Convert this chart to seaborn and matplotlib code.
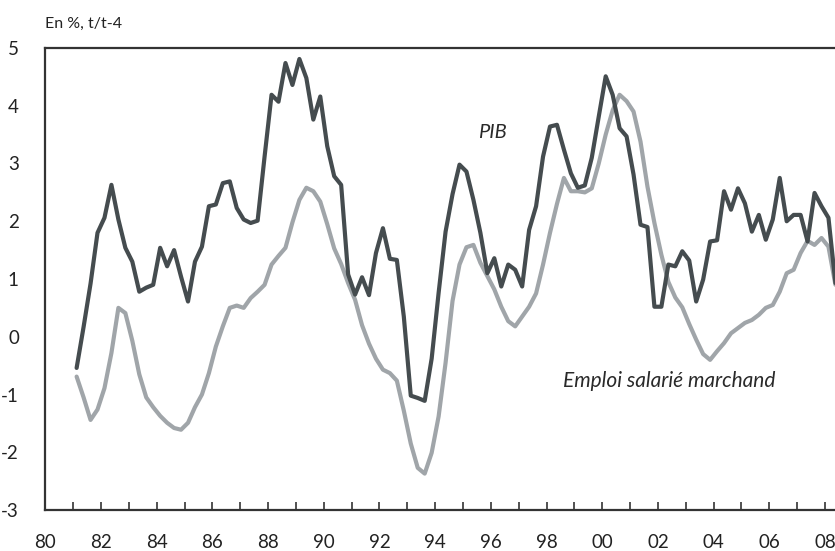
import matplotlib
matplotlib.use("Agg")
import matplotlib.pyplot as plt
from matplotlib.ticker import MultipleLocator, FuncFormatter
import seaborn as sns
import pandas as pd
import numpy as np

# Quarterly data, 1981Q1 - 2008Q2, year-over-year growth (%)
periods = pd.period_range("1981Q1", "2008Q2", freq="Q")

pib = [
    -0.54, 0.17, 0.92, 1.80, 2.06, 2.63, 2.03, 1.54,
    1.30, 0.78, 0.85, 0.90,
    1.54, 1.22, 1.50, 1.04,
    0.61, 1.30, 1.56, 2.26,
    2.29, 2.66, 2.69, 2.23,
    2.03, 1.97, 2.01, 3.12,
    4.19, 4.07, 4.74, 4.36,
    4.81, 4.48, 3.76, 4.16,
    3.30, 2.78, 2.63, 1.08,
    0.73, 1.03, 0.72, 1.45,
    1.88, 1.35, 1.33, 0.35,
    -1.02, -1.06, -1.11, -0.38,
    0.76, 1.82, 2.47, 2.98,
    2.86, 2.37, 1.80, 1.10,
    1.36, 0.87, 1.25, 1.16,
    0.87, 1.85, 2.26, 3.12,
    3.64, 3.67, 3.24, 2.83,
    2.58, 2.62, 3.10, 3.81,
    4.51, 4.19, 3.61, 3.47,
    2.81, 1.94, 1.90, 0.52,
    0.52, 1.25, 1.22, 1.48,
    1.32, 0.61, 0.99, 1.65,
    1.67, 2.52, 2.20, 2.57,
    2.31, 1.82, 2.11, 1.68,
    2.03, 2.75, 2.00, 2.11,
    2.11, 1.65, 2.49, 2.26,
    2.06, 0.93,
]

emploi = [
    -0.69, -1.05, -1.44, -1.26, -0.89, -0.28, 0.50, 0.41,
    -0.07, -0.65, -1.05, -1.22,
    -1.37, -1.49, -1.58, -1.61,
    -1.49, -1.22, -1.00, -0.63,
    -0.17, 0.18, 0.50, 0.54,
    0.50, 0.67, 0.78, 0.90,
    1.25, 1.40, 1.54, 1.98,
    2.37, 2.58, 2.52, 2.34,
    1.95, 1.53, 1.26, 0.93,
    0.64, 0.20, -0.12, -0.38,
    -0.57, -0.63, -0.76, -1.28,
    -1.85, -2.27, -2.37, -2.01,
    -1.38, -0.45, 0.62, 1.25,
    1.55, 1.59, 1.28, 1.05,
    0.82, 0.52, 0.27, 0.18,
    0.35, 0.52, 0.75, 1.25,
    1.80, 2.30, 2.75, 2.52,
    2.52, 2.50, 2.57, 3.00,
    3.50, 3.92, 4.19, 4.08,
    3.90, 3.38, 2.60, 1.97,
    1.42, 0.95, 0.68, 0.51,
    0.22, -0.05, -0.30, -0.40,
    -0.25, -0.11, 0.06, 0.15,
    0.24, 0.29, 0.38, 0.50,
    0.55, 0.78, 1.10, 1.16,
    1.45, 1.66, 1.59, 1.71,
    1.56, 0.90,
]

series_names = ["Emploi salarié marchand", "PIB"]
y_ticks = [-3, -2, -1, 0, 1, 2, 3, 4, 5]

t = np.array([p.year + (p.quarter - 0.5) / 4 for p in periods])
df = pd.concat([
    pd.DataFrame({"t": t, "val": emploi, "serie": series_names[0]}),
    pd.DataFrame({"t": t, "val": pib, "serie": series_names[1]}),
])

sns.set_theme(style="white")
plt.rcParams["font.family"] = ["Lato", "DejaVu Sans"]

W, H = 835, 551
fig = plt.figure(figsize=(W / 100, H / 100), dpi=100)
ax = fig.add_axes([45.3 / W, (H - 510) / H, (W - 45.3) / W, (510 - 48) / H])

palette = {series_names[0]: "#a0a5a9", series_names[1]: "#454c4f"}
sns.lineplot(data=df, x="t", y="val", hue="serie", palette=palette,
             linewidth=3.0, ax=ax, legend=False, estimator=None)

ax.set_xlim(1980, 2008.36)
ax.set_ylim(-3, 5)
ax.set_xlabel("")
ax.set_ylabel("")

ax.xaxis.set_major_locator(MultipleLocator(2))
ax.xaxis.set_minor_locator(MultipleLocator(1))
ax.xaxis.set_major_formatter(FuncFormatter(lambda v, p: f"{int(round(v)) % 100:02d}"))
ax.set_yticks(y_ticks)
ax.set_yticklabels([str(v) for v in y_ticks])

ax.tick_params(axis="x", which="both", direction="in", length=6, width=1.2,
               color="#333333", bottom=True, top=False, pad=17,
               labelsize=13.5, labelcolor="#222222")
ax.tick_params(axis="y", which="both", length=0, pad=19,
               labelsize=13.5, labelcolor="#222222")

for side in ["left", "bottom", "top"]:
    ax.spines[side].set_visible(True)
    ax.spines[side].set_color("#333333")
    ax.spines[side].set_linewidth(1.6)
ax.spines["right"].set_visible(False)

ax.text(1996.05, 3.53, "PIB", style="italic", fontsize=14.5,
        color="#2a2a2a", ha="center", va="center")
ax.text(1998.6, -0.76, "Emploi salarié marchand", style="italic",
        fontsize=15, color="#2a2a2a", ha="left", va="center")

fig.text(45 / W, 1 - 24 / H, "En %, t/t-4", fontsize=11.5, color="#222222",
         ha="left", va="center")

fig.savefig("out.png", dpi=100)
